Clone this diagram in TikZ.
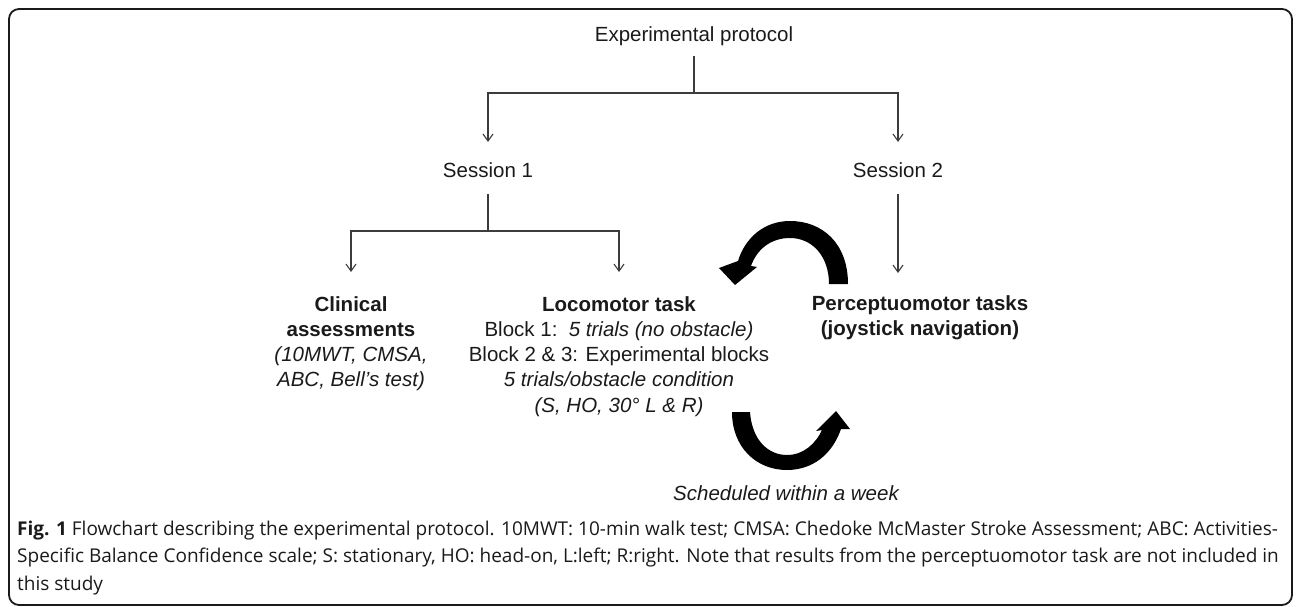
\documentclass[tikz,border=0pt]{standalone}
\usepackage{fontspec}
\setmainfont{Liberation Sans}
\newfontfamily\capfont{Open Sans}
\usetikzlibrary{arrows.meta}
\definecolor{ink}{HTML}{1A1A1A}
\definecolor{wire}{HTML}{3C3C3C}
\begin{document}
\begin{tikzpicture}[x=1pt,y=-1pt,
  txt/.style={inner sep=0pt, text=ink, font=\fontsize{20.5}{25.3}\selectfont},
  blk/.style={txt, align=center, anchor=north},
  conn/.style={draw=wire, line width=1.1pt},
  arr/.style={conn, -{Straight Barb[length=7pt,width=10pt]}},
  bigarrow/.style={fill=black},
  captext/.style={inner sep=0pt, anchor=base west, text=ink, font=\capfont\fontsize{19}{27}\selectfont}]
\useasboundingbox (0,0) rectangle (1296,607);
\draw[line width=1.8pt, draw=ink, rounded corners=10pt] (9,9) rectangle (1292,605);

% nodes
\node[txt, anchor=base] (ep) at (694,42) {Experimental protocol};
\node[txt, anchor=base] (s1) at (488,177) {Session 1};
\node[txt, anchor=base] (s2) at (898,177) {Session 2};
\node[blk] (clin) at (351,296) {\textbf{Clinical}\\\textbf{assessments}\\\textit{(10MWT, CMSA,}\\\textit{ABC, Bell's test)}};
\node[blk] (loco) at (619,296) {\textbf{Locomotor task}\\Block 1:\ \ \textit{5 trials (no obstacle)}\\Block 2 \& 3: Experimental blocks\\\textit{5 trials/obstacle condition}\\\textit{(S, HO, 30° L \& R)}};
\node[blk] (perc) at (920,295) {\textbf{Perceptuomotor tasks}\\\textbf{(joystick navigation)}};
\node[txt, anchor=base, font=\fontsize{20.5}{25}\selectfont\itshape] (sched) at (786,500) {Scheduled within a week};

\coordinate (j1) at (694,93);
\coordinate (j2) at (488,231);

% connectors
\draw[conn, shorten <=10pt] (ep.south) -- (j1);
\draw[arr, shorten >=20pt] (j1) -| (s1.north);
\draw[arr, shorten >=20pt] (j1) -| (s2.north);
\draw[conn, shorten <=17pt] (s1.south) -- (j2);
\draw[arr, shorten >=24pt] (j2) -| (clin.north);
\draw[arr, shorten >=24pt] (j2) -| (loco.north);
\draw[arr, shorten <=17pt, shorten >=22pt] (s2.south) -- (s2.south |- perc.north);

% curved block arrows
\fill[bigarrow] (848,284) .. controls (848,243) and (822,221) .. (790,221)
  .. controls (764,221) and (745,238) .. (738,261) -- (719,268) -- (735,285) -- (757,267) -- (751,266)
  .. controls (757,249) and (771,238) .. (790,238)
  .. controls (812,238) and (829,256) .. (829,284) -- cycle;
\fill[bigarrow] (732,412) -- (750,412) .. controls (752,440) and (768,455) .. (787,455)
  .. controls (804,455) and (816,443) .. (822,430) -- (816,431) -- (836,411) -- (850,429) -- (841,429)
  .. controls (832,455) and (812,470) .. (787,470)
  .. controls (756,470) and (732,447) .. (732,412) -- cycle;

% caption
\node[captext] (cap1) at (17,535) {\textbf{Fig. 1} Flowchart describing the experimental protocol. 10MWT: 10-min walk test; CMSA: Chedoke McMaster Stroke Assessment; ABC: Activities-};
\node[captext] (cap2) at (17,562) {Specific Balance Confidence scale; S: stationary, HO: head-on, L:left; R:right. Note that results from the perceptuomotor task are not included in};
\node[captext] (cap3) at (17,590) {this study};
\end{tikzpicture}
\end{document}
